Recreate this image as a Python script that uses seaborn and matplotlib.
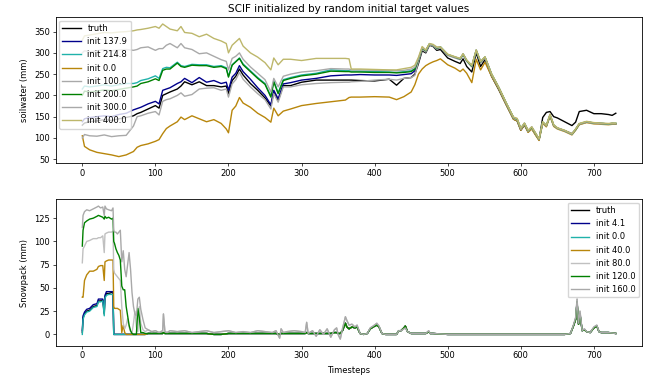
import matplotlib
matplotlib.use("Agg")
import matplotlib.pyplot as plt
import seaborn as sns

# ---------------- top panel: soilwater ----------------
x_top = [0, 3, 10, 20, 30, 40, 50, 60, 70, 75,
         80, 90, 100, 105, 110, 115, 120, 130, 135, 140,
         150, 160, 170, 180, 190, 197, 200, 205, 210, 215,
         220, 230, 240, 250, 258, 262, 268, 275, 285, 300,
         320, 340, 360, 365, 368, 380, 400, 420, 430, 440,
         450, 455, 460, 465, 470, 475, 480, 485, 490, 500,
         510, 517, 521, 526, 533, 539, 545, 551, 560, 570,
         580, 590, 595, 600, 605, 610, 615, 620, 625, 630,
         635, 640, 645, 650, 660, 670, 675, 680, 690, 700,
         710, 720, 725, 730]

sw_truth = [130, 135, 138, 140, 143, 141, 145, 148, 152, 157,
            160, 168, 176, 170, 200, 204, 208, 215, 222, 232,
            225, 232, 223, 223, 220, 222, 204, 235, 245, 262,
            248, 228, 212, 194, 175, 208, 188, 223, 223, 231,
            236, 236, 236, 236, 236, 235, 234, 238, 224, 240,
            242, 250, 275, 305, 300, 318, 315, 306, 308, 288,
            280, 275, 286, 268, 255, 300, 268, 284, 245, 213,
            178, 144, 140, 118, 130, 114, 122, 108, 95, 148,
            160, 162, 150, 147, 138, 129, 137, 162, 165, 157,
            157, 155, 153, 158]
sw_137 = [138, 145, 148, 150, 152, 150, 155, 158, 166, 169,
          172, 180, 186, 180, 212, 215, 218, 228, 232, 240,
          230, 242, 231, 235, 228, 231, 212, 243, 252, 270,
          256, 238, 218, 200, 178, 212, 192, 227, 230, 236,
          240, 246, 248, 248, 248, 249, 248, 248, 247, 249,
          251, 258, 283, 310, 304, 320, 317, 310, 313, 295,
          289, 285, 296, 281, 268, 305, 278, 289, 249, 217,
          181, 147, 143, 121, 133, 116, 124, 110, 97, 136,
          128, 153, 129, 123, 117, 110, 119, 132, 137, 135,
          134, 133, 134, 133]
sw_214 = [215, 222, 220, 222, 225, 222, 225, 228, 228, 230,
          235, 239, 246, 240, 263, 266, 265, 278, 270, 268,
          273, 272, 272, 268, 270, 265, 245, 272, 280, 288,
          274, 258, 242, 228, 198, 234, 206, 237, 242, 248,
          252, 260, 258, 258, 257, 257, 256, 255, 254, 256,
          258, 263, 285, 311, 305, 321, 318, 311, 314, 296,
          290, 286, 297, 282, 269, 306, 279, 290, 250, 218,
          182, 148, 144, 122, 134, 117, 125, 111, 97, 137,
          129, 154, 130, 123, 117, 109, 120, 133, 138, 135,
          134, 133, 134, 134]
sw_0 = [105, 80, 72, 66, 63, 60, 56, 60, 68, 78,
        82, 86, 92, 96, 110, 122, 128, 138, 149, 143,
        152, 145, 138, 143, 134, 121, 112, 165, 175, 195,
        182, 172, 158, 148, 137, 170, 152, 163, 168, 176,
        181, 185, 189, 195, 196, 196, 197, 196, 190, 197,
        208, 225, 250, 262, 270, 275, 279, 282, 286, 272,
        264, 256, 262, 252, 230, 285, 260, 278, 245, 214,
        178, 144, 140, 118, 131, 113, 121, 107, 94, 134,
        126, 151, 127, 121, 115, 107, 118, 131, 136, 133,
        132, 131, 132, 132]
sw_100 = [100, 108, 105, 104, 107, 103, 105, 106, 128, 150,
          152, 158, 162, 154, 186, 190, 192, 200, 206, 198,
          202, 215, 217, 218, 212, 215, 196, 227, 237, 254,
          238, 220, 204, 190, 168, 204, 184, 220, 220, 225,
          228, 230, 231, 231, 232, 233, 236, 238, 236, 240,
          242, 247, 280, 308, 302, 319, 316, 309, 312, 294,
          288, 284, 295, 280, 267, 304, 277, 288, 248, 216,
          180, 146, 142, 120, 132, 115, 123, 109, 96, 136,
          128, 153, 129, 122, 116, 108, 119, 132, 137, 134,
          133, 132, 133, 133]
sw_200 = [200, 210, 208, 210, 213, 211, 214, 217, 220, 222,
          228, 232, 239, 235, 259, 262, 262, 276, 268, 266,
          271, 270, 270, 266, 268, 263, 243, 271, 279, 287,
          272, 256, 240, 226, 196, 232, 204, 235, 240, 246,
          250, 257, 256, 256, 255, 255, 254, 254, 253, 254,
          256, 262, 285, 311, 305, 321, 318, 311, 314, 296,
          290, 286, 297, 282, 269, 306, 279, 290, 250, 218,
          182, 148, 144, 122, 134, 117, 125, 111, 97, 137,
          129, 154, 130, 123, 117, 109, 120, 133, 138, 135,
          134, 133, 134, 134]
sw_300 = [300, 305, 302, 305, 308, 305, 307, 308, 306, 308,
          312, 314, 306, 310, 310, 318, 322, 312, 322, 312,
          308, 298, 300, 292, 284, 280, 260, 287, 292, 300,
          285, 267, 252, 237, 208, 240, 220, 245, 250, 255,
          258, 263, 262, 262, 260, 260, 259, 259, 258, 259,
          262, 266, 286, 312, 306, 321, 318, 312, 314, 296,
          290, 287, 298, 283, 270, 307, 280, 290, 250, 218,
          182, 148, 145, 122, 135, 118, 126, 112, 97, 137,
          129, 155, 130, 123, 117, 109, 121, 133, 138, 135,
          134, 133, 134, 134]
sw_400 = [330, 340, 342, 345, 348, 347, 349, 350, 352, 354,
          355, 358, 362, 358, 368, 362, 356, 352, 362, 348,
          346, 338, 344, 334, 328, 322, 300, 318, 326, 334,
          316, 300, 290, 277, 260, 288, 272, 285, 285, 282,
          287, 287, 287, 286, 262, 262, 261, 260, 260, 263,
          266, 271, 290, 315, 307, 322, 320, 314, 314, 297,
          291, 287, 298, 283, 271, 307, 280, 291, 251, 219,
          183, 149, 146, 123, 135, 118, 126, 112, 98, 138,
          130, 156, 131, 124, 118, 110, 121, 134, 139, 136,
          135, 134, 135, 135]

top_labels = ["truth", "init 137.9", "init 214.8", "init 0.0",
              "init 100.0", "init 200.0", "init 300.0", "init 400.0"]

# ---------------- bottom panel: snowpack ----------------
x_head = [0, 1, 3, 6, 10, 15, 20, 22, 25, 28, 30, 31, 33, 36, 40, 42, 43, 44,
          46, 48, 50, 52, 54, 56, 58, 60, 62, 64, 66, 68, 70, 72, 74, 76, 78,
          80, 83, 86]
x_tail = [90, 95, 100, 105, 110, 111, 113, 116, 120, 130,
          140, 150, 160, 170, 180, 190, 200, 210, 220, 230,
          240, 250, 260, 265, 270, 272, 275, 280, 290, 300,
          305, 307, 309, 315, 320, 325, 330, 335, 340, 345,
          348, 350, 353, 356, 360, 362, 365, 369, 373, 376,
          380, 385, 390, 394, 398, 403, 406, 410, 415, 420,
          425, 430, 433, 436, 440, 442, 445, 450, 460, 470,
          474, 476, 480, 500, 520, 540, 560, 580, 600, 620,
          640, 660, 668, 672, 675, 677, 679, 681, 684, 687,
          690, 695, 700, 704, 707, 710, 720, 730]

sp_truth_head = [2, 18, 22, 25, 26, 30, 31, 36, 36, 37, 22, 40, 44, 44, 45, 45, 0, 0,
                 0, 0, 0, 0, 0, 0, 0, 0, 0, 0, 0, 0, 0, 0, 0, 0, 0, 0, 0, 0]
sp_4_head = [4, 20, 24, 27, 28, 32, 33, 38, 38, 38, 24, 42, 46, 46, 46, 46, 0, 0,
             0, 0, 0, 0, 0, 0, 0, 0, 0, 0, 0, 0, 0, 0, 0, 0, 0, 0, 0, 0]
sp_0_head = [0, 16, 21, 24, 25, 29, 30, 35, 35, 36, 20, 39, 42, 43, 43, 43, 0, 0,
             0, 0, 0, 0, 0, 0, 0, 0, 0, 0, 0, 0, 0, 0, 0, 0, 0, 0, 0, 0]
sp_40_head = [40, 40, 58, 64, 68, 68, 70, 73, 74, 74, 58, 78, 79, 80, 80, 80, 30, 28,
              28, 28, 27, 26, 2, 10, 2, 0, 0, 0, 0, 0, 0, 0, 0, 0, 0, 0, 0, 0]
sp_80_head = [77, 92, 95, 100, 101, 103, 103, 104, 104, 106, 88, 108, 109, 110, 110, 111, 70, 66,
              64, 62, 60, 58, 30, 12, 6, 10, 17, 8, 3, 2, 12, 25, 8, 3, 30, 12, 5, 3]
sp_120_head = [95, 112, 120, 122, 124, 125, 127, 128, 127, 126, 124, 127, 125, 126, 124, 125, 100, 98,
               92, 88, 85, 80, 52, 48, 48, 30, 20, 10, 4, 1, 0, 0, 0, 28, 18, 2, 2, 1]
sp_160_head = [115, 128, 132, 134, 133, 135, 137, 138, 136, 137, 128, 138, 135, 134, 133, 136, 112, 110,
               110, 108, 110, 112, 78, 90, 70, 62, 75, 88, 70, 45, 30, 22, 20, 38, 40, 27, 16, 7]

sp_tail_gray = [5, 3, 4, 2, 4, 22, 3, 2, 4, 3,
                4, 2, 3, 4, 2, 3, 4, 2, 3, 2,
                4, 3, 2, 4, -4, 6, 2, 3, 4, 3,
                2, 13, 1, 4, -2, 5, 0, 6, -3, 5,
                7, 0, -5, 6, 19, 15, 10, 11, 8, 10,
                1, 0, 1, 7, 9, 12, 9, 1, 0, 0,
                0, 0, 4, 4, 6, 7, 3, 1, 1, 1,
                4, 1, 1, 0, 0, 0, 0, 0, 0, 0,
                0, 0, 1, 10, 18, 38, 12, 25, 4, 6,
                3, 2, 8, 10, 3, 2, 2, 1]
sp_tail_model = [1, 1, 1, 1, 1, 2, 1, 1, 1, 1,
                 1, 1, 1, 1, 0, 0, 1, 1, 1, 1,
                 1, 1, 1, 1, 0, 1, 1, 1, 1, 1,
                 1, 2, 1, 1, 1, 1, 1, 1, 1, 2,
                 2, 1, 1, 4, 12, 8, 6, 8, 7, 8,
                 1, 0, 1, 6, 8, 10, 8, 1, 0, 0,
                 0, 0, 4, 4, 7, 9, 3, 1, 1, 1,
                 3, 1, 1, 0, 0, 0, 0, 0, 0, 0,
                 0, 0, 1, 9, 16, 35, 11, 22, 4, 5,
                 3, 2, 7, 9, 3, 2, 2, 1]

bot_labels = ["truth", "init 4.1", "init 0.0", "init 40.0",
              "init 80.0", "init 120.0", "init 160.0"]

colors_top = ["black", "darkblue", "lightseagreen", "darkgoldenrod",
              "darkgray", "green", "darkgray", "darkkhaki"]
colors_bot = ["black", "darkblue", "lightseagreen", "darkgoldenrod",
              "silver", "green", "darkgray"]

plt.rcParams["font.family"] = ["DejaVu Sans"]
plt.rcParams["font.size"] = 6
plt.rcParams["axes.linewidth"] = 0.6

fig = plt.figure(figsize=(6.47, 3.77), dpi=100)
ax1 = fig.add_axes([0.086, 0.567, 0.907, 0.387])
ax2 = fig.add_axes([0.086, 0.083, 0.907, 0.388])

top_series = [sw_truth, sw_137, sw_214, sw_0, sw_100, sw_200, sw_300, sw_400]
for vals, lab, col in zip(top_series, top_labels, colors_top):
    sns.lineplot(x=x_top, y=vals, ax=ax1, color=col, linewidth=1.0, label=lab)

bot_heads = [sp_truth_head, sp_4_head, sp_0_head, sp_40_head, sp_80_head, sp_120_head, sp_160_head]
bot_tails = [sp_tail_model, sp_tail_model, sp_tail_model, sp_tail_model,
             sp_tail_gray, sp_tail_model, sp_tail_gray]
x_bot = x_head + x_tail
for head, tail, lab, col in zip(bot_heads, bot_tails, bot_labels, colors_bot):
    sns.lineplot(x=x_bot, y=head + tail, ax=ax2, color=col, linewidth=1.0, label=lab)

ax1.set_title("SCIF initialized by random initial target values", fontsize=7.5, pad=4)
ax1.set_ylabel("soilwater (mm)", fontsize=6)
ax1.set_xlabel("")
ax2.set_ylabel("Snowpack (mm)", fontsize=6)
ax2.set_xlabel("Timesteps", fontsize=6)

ax1.set_xticks([0, 100, 200, 300, 400, 500, 600, 700])
ax2.set_xticks([0, 100, 200, 300, 400, 500, 600, 700])
ax1.set_yticks([50, 100, 150, 200, 250, 300, 350])
ax2.set_yticks([0, 25, 50, 75, 100, 125])
for ax in (ax1, ax2):
    ax.tick_params(labelsize=6, length=2.1, width=0.5, pad=2)
    ax.set_xlim(-36.5, 766.5)

ax1.legend(loc="upper left", fontsize=6, handlelength=2.2, borderaxespad=0.4)
ax2.legend(loc="upper right", fontsize=6, handlelength=2.2, borderaxespad=0.4)

fig.savefig("out.png", dpi=100)
